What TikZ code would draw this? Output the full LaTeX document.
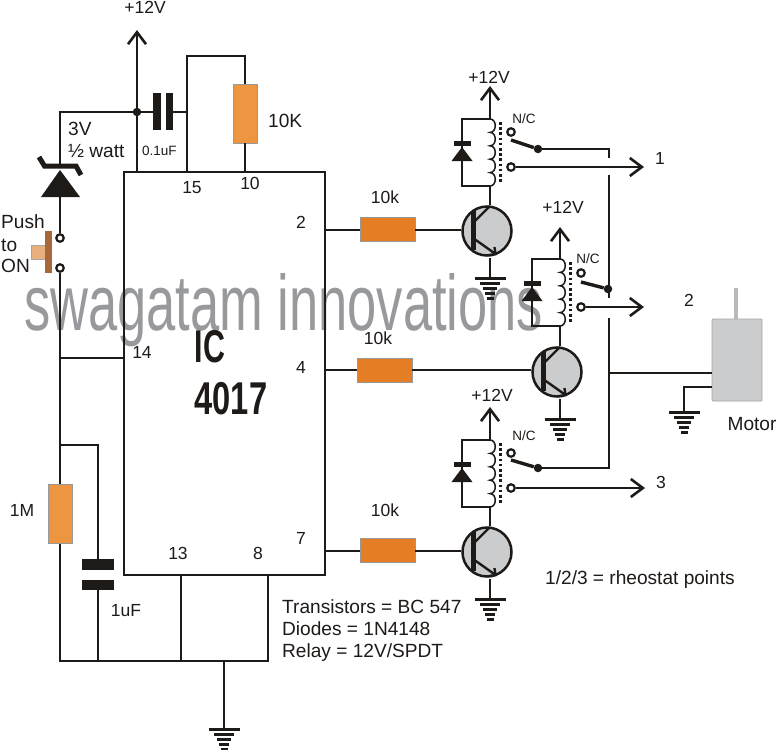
\documentclass[tikz,border=0pt]{standalone}
\usepackage{graphicx}
\usepackage{fontspec}
\setmainfont{Liberation Sans}
\usetikzlibrary{arrows.meta}
\definecolor{resA}{HTML}{ED9540}
\definecolor{resB}{HTML}{E57D24}
\definecolor{bodygray}{HTML}{CBCCCE}
\definecolor{wmark}{HTML}{98999C}
\definecolor{btnbar}{HTML}{A9683A}
\definecolor{btnface}{HTML}{E8B07D}
\definecolor{ink}{HTML}{1E1A18}
\tikzset{
  wire/.style={draw=ink,line width=2.4pt,line join=miter},
  thinwire/.style={draw=ink,line width=2pt},
  barb/.style={-{Straight Barb[length=12pt,width=18pt,line width=2.6pt]}},
  lbl/.style={font=\fontsize{17.5}{20}\selectfont,inner sep=0pt,text=ink},
  lblbig/.style={font=\fontsize{19.1}{22}\selectfont,inner sep=0pt,text=ink},
  lblsmall/.style={font=\fontsize{13.5}{15}\selectfont,inner sep=0pt,text=ink},
  resv/.style={rectangle,fill=resA,draw=gray!80,line width=.6pt,minimum width=24pt,minimum height=59pt,inner sep=0pt},
  resh/.style={rectangle,fill=resB,draw=gray!80,line width=.6pt,minimum width=55pt,minimum height=24pt,inner sep=0pt},
  bjt/.style={circle,fill=bodygray,draw=ink,line width=2.5pt,minimum size=49pt,inner sep=0pt},
  openpin/.style={circle,fill=white,draw=ink,line width=2.2pt,minimum size=7.5pt,inner sep=0pt},
  blackdot/.style={circle,fill=ink,minimum size=8.5pt,inner sep=0pt},
}
\newcommand\gndmark[1]{%
  \begin{scope}[shift={(#1)},ink]
    \fill (-15.5,-1.5) rectangle (15.5,1.5);
    \fill (-10,3.5) rectangle (10,6.5);
    \fill (-7,8.5) rectangle (7,11.5);
    \fill (-5,13.5) rectangle (5,16.5);
    \fill (-3.5,18.5) rectangle (3.5,21.5);
  \end{scope}}
% #1 = transistor node name; defines #1c, #1e
\newcommand\bjtinner[1]{%
  \begin{scope}[shift={(#1.center)}]
    \coordinate (#1c) at (3,-26);
    \coordinate (#1e) at (3,27);
    \draw[draw=ink,line width=5pt] (-14,-20) -- (-14,19);
    \draw[wire] (-14,-8) -- (3,-25);
    \draw[wire,-{Straight Barb[length=5pt,width=10pt,line width=2.4pt]}] (-14,7) -- (10,24);
  \end{scope}}
% #1 = coordinate at coil top; defines #1b (bottom of coil)
\newcommand\relaycoil[1]{%
  \begin{scope}[shift={(#1)}]
    \coordinate (#1b) at (0,67);
    \coordinate (#1l) at (-28,0);
    \coordinate (#1m) at (-28,67);
    \draw[wire] (#1) -- (#1l) -- (#1m) -- (#1b);
    \fill[ink] (-36.5,22) rectangle (-19.5,27);
    \fill[ink] (-28,28) -- (-38.5,42) -- (-17.5,42) -- cycle;
    \draw[draw=ink,line width=1.5pt] (0,0)
      .. controls (7,0) and (7,13.4) .. (0,13.4)
      .. controls (7,13.4) and (7,26.8) .. (0,26.8)
      .. controls (7,26.8) and (7,40.2) .. (0,40.2)
      .. controls (7,40.2) and (7,53.6) .. (0,53.6)
      .. controls (7,53.6) and (7,67) .. (0,67);
    \draw[draw=ink,line width=3pt,dash pattern=on 2.6pt off 2.6pt] (10,3) -- (10,65);
  \end{scope}}
\begin{document}
\begin{tikzpicture}[x=1pt,y=-1pt]
\useasboundingbox (0,0) rectangle (777,750);
\fill[white] (0,0) rectangle (777,750);

% watermark
\node[anchor=base west,inner sep=0pt,text=wmark] (wm) at (24,330)
  {\resizebox{519pt}{57pt}{swagatam innovations}};

% --- IC
\node[rectangle,draw=ink,line width=2.4pt,minimum width=201pt,minimum height=403pt,inner sep=0pt] (ic) at (224.5,373.5) {};
\node[inner sep=0pt,text=ink] (ictext) at (210,347)
  {\scalebox{.66}[1]{\fontsize{46}{50}\selectfont\bfseries IC}};
\node[inner sep=0pt,text=ink] (ictextb) at (231,399)
  {\scalebox{.71}[1]{\fontsize{46}{50}\selectfont\bfseries 4017}};

% --- top left
\coordinate (vcc) at (137,30);
\coordinate (pinV) at (137,172);
\node[blackdot] (jtop) at (137,112) {};
\draw[wire,barb] (pinV) -- (vcc);
\coordinate (ztop) at (60,112);
\coordinate (zbar) at (60,165);
\draw[wire] (jtop) -- (ztop) -- (zbar);
\coordinate (capL) at (153,112);
\coordinate (capR) at (173,112);
\draw[wire] (jtop) -- (capL);
\fill[ink] (153,93) rectangle (160.5,130);
\fill[ink] (165.5,93) rectangle (173,130);
\coordinate (n15) at (187,112);
\coordinate (pin15) at (187,172);
\coordinate (n15t) at (187,56);
\coordinate (n10t) at (245,56);
\coordinate (pin10) at (245,172);
\node[resv] (r10) at (245,113.5) {};
\draw[wire] (capR) -- (n15);
\draw[wire] (pin15) -- (n15t) -- (n10t) -- (r10.north);
\draw[wire] (r10.south) -- (pin10);

% zener
\draw[draw=ink,line width=5pt,line join=miter] (39,157) -- (44.5,166) -- (76,166) -- (81,175);
\fill[ink] (60,170) -- (41,197) -- (80,197) -- cycle;
% switch
\node[openpin] (sw1) at (60,238) {};
\node[openpin] (sw2) at (60,268) {};
\draw[wire] (60,197) -- (sw1);
\fill[btnface,draw=gray!70,line width=.5pt] (31,245) rectangle (45,259);
\fill[btnbar] (45,231) rectangle (52,273);

% left rail
\coordinate (j14) at (60,358);
\coordinate (pin14) at (124,358);
\coordinate (jc) at (60,445);
\coordinate (cr) at (98,445);
\coordinate (cp1) at (98,559);
\coordinate (cp2) at (98,590);
\coordinate (bl) at (60,661);
\coordinate (bc) at (98,661);
\coordinate (b13) at (181,661);
\coordinate (bg) at (224,661);
\coordinate (b8) at (268,661);
\coordinate (pin13) at (181,575);
\coordinate (pin8) at (268,575);
\coordinate (gnd0) at (224,729);
\node[resv] (r1m) at (60,514) {};
\draw[wire] (sw2) -- (j14) -- (jc) -- (r1m.north);
\draw[wire] (j14) -- (pin14);
\draw[wire] (jc) -- (cr) -- (cp1);
\fill[ink] (82,559) rectangle (114,570);
\fill[ink] (82,580) rectangle (114,590);
\draw[wire] (cp2) -- (bc);
\draw[wire] (r1m.south) -- (bl) -- (bc) -- (b13) -- (bg) -- (b8) -- (pin8);
\draw[wire] (pin13) -- (b13);
\draw[wire] (bg) -- (gnd0);
\gndmark{gnd0}

% --- transistors and base resistors
\node[bjt] (t1) at (487,231) {};
\node[bjt] (t2) at (557,372) {};
\node[bjt] (t3) at (487,552) {};
\node[resh] (rb1) at (387.5,229.5) {};
\node[resh] (rb2) at (384.5,370) {};
\node[resh] (rb3) at (387.5,550.5) {};
\coordinate (pin2) at (325,229.5);
\coordinate (pin4) at (325,370);
\coordinate (pin7) at (325,550.5);
\draw[thinwire] (pin2) -- (rb1.west);
\draw[thinwire] (pin4) -- (rb2.west);
\draw[thinwire] (pin7) -- (rb3.west);
\draw[thinwire] (rb1.east) -- (rb1.east -| t1.west);
\draw[thinwire] (rb2.east) -- (rb2.east -| t2.west);
\draw[thinwire] (rb3.east) -- (rb3.east -| t3.west);
\bjtinner{t1}\bjtinner{t2}\bjtinner{t3}

% grounds under transistors
\coordinate (g1) at (490,278);
\coordinate (g2) at (560,419);
\coordinate (g3) at (490,599);
\draw[wire] (t1e) -- (g1); \gndmark{g1}
\draw[wire] (t2e) -- (g2); \gndmark{g2}
\draw[wire] (t3e) -- (g3); \gndmark{g3}

% --- relays
\coordinate (ra) at (490,119);
\coordinate (rc) at (560,259);
\coordinate (re) at (490,440);
\relaycoil{ra}\relaycoil{rc}\relaycoil{re}
\coordinate (va) at (490,86);
\coordinate (vc) at (560,227);
\coordinate (ve) at (490,407);
\draw[wire,barb] (ra) -- (va);
\draw[wire,barb] (rc) -- (vc);
\draw[wire,barb] (re) -- (ve);
\draw[wire] (rab) -- (t1c);
\draw[wire] (rcb) -- (t2c);
\draw[wire] (reb) -- (t3c);

% contacts
\node[openpin] (nca) at (511,132) {};
\node[openpin] (nca2) at (511,167) {};
\node[blackdot] (pa) at (538,149) {};
\coordinate (pa0) at (511,140);
\node[openpin] (ncb) at (581,273) {};
\node[openpin] (ncb2) at (581,307) {};
\node[blackdot] (pb) at (608,289) {};
\coordinate (pb0) at (581,282);
\node[openpin] (ncc) at (511,453) {};
\node[openpin] (ncc2) at (511,488) {};
\node[blackdot] (pc) at (538,468) {};
\coordinate (pc0) at (511,460);
\draw[draw=ink,line width=3.4pt] (pa0) -- (pa);
\draw[draw=ink,line width=3.4pt] (pb0) -- (pb);
\draw[draw=ink,line width=3.4pt] (pc0) -- (pc);
\coordinate (ta) at (644,167);
\coordinate (tb) at (644,307);
\coordinate (tc) at (645,488);
\draw[wire,barb] (nca2) -- (ta);
\draw[wire,barb] (ncb2) -- (tb);
\draw[wire,barb] (ncc2) -- (tc);

% common line
\coordinate (ca1) at (609,149);
\coordinate (ca2) at (609,158);
\coordinate (cb1) at (609,175);
\coordinate (cb2) at (609,298);
\coordinate (cc1) at (609,318);
\coordinate (cc2) at (609,468);
\coordinate (jm) at (609,373);
\draw[wire] (pa) -- (ca1) -- (ca2);
\draw[wire] (cb1) -- (cb2);
\draw[wire] (cc1) -- (cc2) -- (pc);

% motor
\node[rectangle,rounded corners=1pt,fill=bodygray,draw=gray!70,line width=.8pt,minimum width=50pt,minimum height=82pt,inner sep=0pt] (motor) at (737,360) {};
\coordinate (shaft) at (736,288);
\draw[draw=gray!55,line width=4pt] (shaft) -- (motor.north -| shaft);
\draw[wire] (jm) -- (motor.west |- jm);
\coordinate (mg1) at (712,387);
\coordinate (mg2) at (684,387);
\coordinate (gm) at (684,412);
\draw[wire] (mg1) -- (mg2) -- (gm);
\gndmark{gm}

% --- labels
\node[lbl] (l1) at (145,7.5) {+12V};
\node[lbl] (l2) at (489,77) {+12V};
\node[lbl] (l3) at (563,207) {+12V};
\node[lbl] (l4) at (492,395) {+12V};
\node[lblbig,anchor=west] (l5) at (268,121) {10K};
\node[lblbig,anchor=west] (l6) at (68,129) {3V};
\node[lblbig,anchor=west] (l7) at (68,151) {½ watt};
\node[lblsmall,anchor=west] (l8) at (142,151) {0.1uF};
\node[lbl] (l9) at (192,188) {15};
\node[lbl] (l10) at (250,183) {10};
\node[lblbig,anchor=west] (l11) at (1,222) {Push};
\node[lblbig,anchor=west] (l12) at (1,245) {to};
\node[lblbig,anchor=west] (l13) at (1,266) {ON};
\node[lbl] (l14) at (301,222) {2};
\node[lbl] (l15) at (142,352) {14};
\node[lbl] (l16) at (301,367) {4};
\node[lbl] (l17) at (301,538) {7};
\node[lbl] (l18) at (178,553) {13};
\node[lbl] (l19) at (258,553) {8};
\node[lbl] (l20) at (22,510) {1M};
\node[lbl] (l21) at (126,611) {1uF};
\node[lbl] (l22) at (385,197) {10k};
\node[lbl] (l23) at (378,338) {10k};
\node[lbl] (l24) at (385,510) {10k};
\node[lblsmall] (l25) at (524,119) {N/C};
\node[lblsmall] (l26) at (588,259) {N/C};
\node[lblsmall] (l27) at (524,436) {N/C};
\node[lbl] (l28) at (660,158) {1};
\node[lbl] (l29) at (689,300) {2};
\node[lbl] (l30) at (661,482) {3};
\node[lblbig] (l31) at (752,424) {Motor};
\node[lblbig,anchor=base west] (l32) at (545,584) {1/2/3 = rheostat points};
\node[lblbig,anchor=base west] (l33) at (282,613) {Transistors = BC 547};
\node[lblbig,anchor=base west] (l34) at (282,635) {Diodes = 1N4148};
\node[lblbig,anchor=base west] (l35) at (282,657) {Relay = 12V/SPDT};
\end{tikzpicture}
\end{document}
